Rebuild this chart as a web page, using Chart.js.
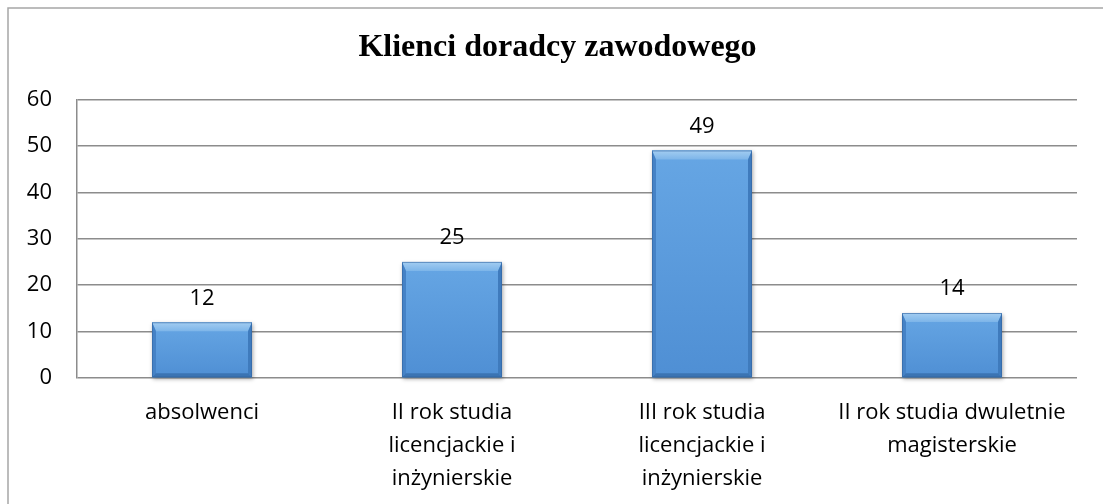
<!DOCTYPE html>
<html><head><meta charset="utf-8">
<script src="https://cdn.jsdelivr.net/npm/chart.js@4.4.0/dist/chart.umd.min.js"></script>
<style>html,body{margin:0;padding:0;background:#fff;overflow:hidden}canvas{display:block}</style>
</head><body>
<canvas id="c" width="1103" height="504"></canvas>
<script>
const chartTitle = 'Klienci doradcy zawodowego';
const categories = [
  'absolwenci',
  ['II rok studia', 'licencjackie i', 'inżynierskie'],
  ['III rok studia', 'licencjackie i', 'inżynierskie'],
  ['II rok studia dwuletnie', 'magisterskie']
];
const values = [12, 25, 49, 14];
const yMin = 0, yMax = 60, yStep = 10;

const FONT = '"Open Sans", Lato, sans-serif';
const FSIZE = 22;
const GRID = '#8c8c8c';

const framePlugin = {
  id: 'frame',
  beforeDraw(chart) {
    const ctx = chart.ctx;
    ctx.save();
    ctx.fillStyle = '#fff';
    ctx.fillRect(0, 0, chart.width, chart.height);
    ctx.strokeStyle = '#a6a6a6';
    ctx.lineWidth = 1.5;
    ctx.strokeRect(8, 8, 1300, 700);
    ctx.restore();
  }
};

const bevelPlugin = {
  id: 'bevel',
  afterDatasetsDraw(chart) {
    const ctx = chart.ctx;
    const meta = chart.getDatasetMeta(0);
    meta.data.forEach((el, i) => {
      const p = el.getProps(['x', 'y', 'base', 'width'], true);
      const L = p.x - p.width / 2, R = p.x + p.width / 2, T = p.y, B = p.base;
      const b = 9, s = 4;
      ctx.save();
      const g = ctx.createLinearGradient(0, T, 0, B);
      g.addColorStop(0, '#66a6e4');
      g.addColorStop(1, '#4f8fd4');
      ctx.shadowColor = 'rgba(0,0,0,0.35)';
      ctx.shadowBlur = 4;
      ctx.shadowOffsetY = 2;
      ctx.shadowOffsetX = 1;
      ctx.fillStyle = g;
      ctx.fillRect(L, T, p.width, B - T);
      ctx.shadowColor = 'transparent';
      const gt = ctx.createLinearGradient(0, T, 0, T + b);
      gt.addColorStop(0, '#a3cdf1');
      gt.addColorStop(1, '#7db5e9');
      ctx.fillStyle = gt;
      ctx.beginPath();
      ctx.moveTo(L, T); ctx.lineTo(R, T); ctx.lineTo(R - s, T + b); ctx.lineTo(L + s, T + b); ctx.closePath();
      ctx.fill();
      ctx.fillStyle = '#4582c6';
      ctx.beginPath();
      ctx.moveTo(L, T); ctx.lineTo(L + s, T + b); ctx.lineTo(L + s, B - s); ctx.lineTo(L, B); ctx.closePath();
      ctx.fill();
      ctx.fillStyle = '#3f7bbd';
      ctx.beginPath();
      ctx.moveTo(R, T); ctx.lineTo(R - s, T + b); ctx.lineTo(R - s, B - s); ctx.lineTo(R, B); ctx.closePath();
      ctx.fill();
      ctx.fillStyle = '#3b74b3';
      ctx.beginPath();
      ctx.moveTo(L, B); ctx.lineTo(L + s, B - s); ctx.lineTo(R - s, B - s); ctx.lineTo(R, B); ctx.closePath();
      ctx.fill();
      ctx.strokeStyle = 'rgba(50,100,160,0.6)';
      ctx.lineWidth = 1;
      ctx.strokeRect(L + 0.5, T + 0.5, p.width - 1, B - T - 1);
      ctx.restore();
    });
  },
  afterDraw(chart) {
    const ctx = chart.ctx;
    const meta = chart.getDatasetMeta(0);
    ctx.save();
    ctx.font = FSIZE + 'px ' + FONT;
    ctx.fillStyle = '#000';
    ctx.textAlign = 'center';
    ctx.textBaseline = 'middle';
    meta.data.forEach((el, i) => {
      ctx.fillText(String(values[i]), el.x, el.y - 24);
    });
    ctx.restore();
  }
};

new Chart(document.getElementById('c'), {
  type: 'bar',
  data: {
    labels: categories,
    datasets: [{
      data: values,
      yAxisID: 'y',
      backgroundColor: '#5a9de0',
      borderWidth: 0,
      barPercentage: 0.4,
      categoryPercentage: 1.0
    }]
  },
  options: {
    responsive: false,
    animation: false,
    devicePixelRatio: 1,
    layout: { padding: { top: 29, right: 0, bottom: 0, left: 12 } },
    plugins: {
      legend: { display: false },
      tooltip: { enabled: false },
      title: {
        display: true,
        text: chartTitle,
        color: '#000',
        font: { family: '"Liberation Serif", "Times New Roman", serif', size: 32, weight: 'bold', lineHeight: 1.2 },
        padding: { top: 0, bottom: 32 }
      }
    },
    scales: {
      x: {
        grid: { display: false, drawTicks: false },
        border: { display: false },
        ticks: {
          color: '#000',
          padding: 18,
          maxRotation: 0,
          autoSkip: false,
          font: { family: FONT, size: FSIZE, lineHeight: 1.5 }
        },
        afterFit(scale) { scale.height = 126; }
      },
      y: {
        position: 'left',
        min: yMin, max: yMax,
        grid: { color: GRID, lineWidth: 1.5, drawTicks: false },
        border: { display: true, color: GRID, width: 1.5 },
        ticks: {
          stepSize: yStep,
          color: '#000',
          padding: 25,
          font: { family: FONT, size: FSIZE }
        },
        afterFit(scale) { scale.width = 65; }
      },
      yRight: {
        position: 'right',
        display: true,
        grid: { display: false, drawTicks: false },
        border: { display: false },
        ticks: { display: false },
        afterFit(scale) { scale.width = 26; }
      }
    }
  },
  plugins: [framePlugin, bevelPlugin]
});
</script>
</body></html>
